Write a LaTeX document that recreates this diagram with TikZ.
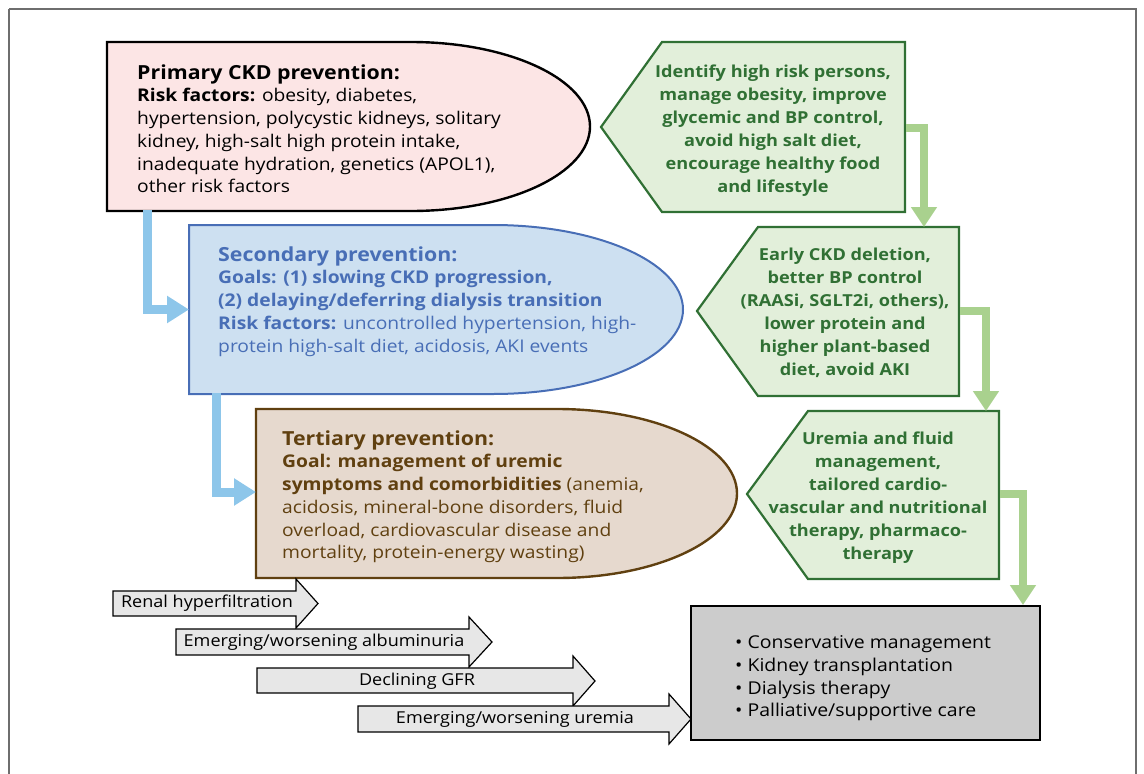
\documentclass[tikz,border=0pt]{standalone}
\usepackage{fontspec}
\setmainfont[FakeStretch=1.1]{Open Sans}
\usetikzlibrary{arrows.meta}
\definecolor{pinkfill}{RGB}{252,229,229}
\definecolor{bluefill}{RGB}{205,224,241}
\definecolor{bluedark}{RGB}{72,110,182}
\definecolor{brownfill}{RGB}{230,217,206}
\definecolor{browndark}{RGB}{96,64,16}
\definecolor{greenfill}{RGB}{226,239,218}
\definecolor{greendark}{RGB}{48,112,52}
\definecolor{greenlink}{RGB}{169,209,142}
\definecolor{bluelink}{RGB}{141,198,234}
\definecolor{boxgray}{RGB}{204,204,204}
\definecolor{stepgray}{RGB}{231,231,231}
\definecolor{framegray}{RGB}{110,110,110}
\newcommand{\headfont}{\fontsize{19.4}{22.7}\selectfont\bfseries}
\begin{document}
\begin{tikzpicture}[x=1pt,y=-1pt,
        every node/.style={inner sep=0pt},
        prevtext/.style={anchor=north west,align=left,font=\fontsize{17.5}{22.7}\selectfont},
        actiontext/.style={align=center,text=greendark,font=\fontsize{16.5}{23}\selectfont\bfseries},
        actionbox/.style={draw=greendark,fill=greenfill,line width=2.2pt,line join=miter},
        steptext/.style={font=\fontsize{16.4}{18}\selectfont},
        stepshape/.style={draw=black,fill=stepgray,line width=1.2pt,line join=miter},
        bluelinkarrow/.style={draw=bluelink,line width=9pt,-{Triangle[width=26pt,length=22pt]}},
        greenlinkarrow/.style={draw=greenlink,line width=8pt,-{Triangle[width=25pt,length=20pt]}}]
        \useasboundingbox (0,0) rectangle (1144,774);
        \draw [framegray,line width=1.4pt] (9,9) -- (1136,9) -- (1136,790) (9,790) -- (9,9);
        % prevention levels
        \draw [black,fill=pinkfill,line width=2.4pt] (107,42) -- (411,42) arc[start angle=-90,end angle=90,x radius=179,y radius=84.5] -- (107,211) -- cycle;
        \node [prevtext] (primary) at (137,64.3) {{\headfont Primary CKD prevention:}\\
          \textbf{Risk factors:} obesity, diabetes,\\
          hypertension, polycystic kidneys, solitary\\
          kidney, high-salt high protein intake,\\
          inadequate hydration, genetics (APOL1),\\
          other risk factors};
        \draw [bluedark,fill=bluefill,line width=2pt] (189,225) -- (493,225) arc[start angle=-90,end angle=90,x radius=190,y radius=84.5] -- (189,394) -- cycle;
        \node [prevtext,text=bluedark] (secondary) at (218,246.3) {{\headfont Secondary prevention:}\\
          \textbf{Goals: (1) slowing CKD progression,}\\
          \textbf{(2) delaying/deferring dialysis transition}\\
          \textbf{Risk factors:} uncontrolled hypertension, high-\\
          protein high-salt diet, acidosis, AKI events};
        \draw [browndark,fill=brownfill,line width=2.4pt] (256,409) -- (557,409) arc[start angle=-90,end angle=90,x radius=180,y radius=84.5] -- (256,578) -- cycle;
        \node [prevtext,text=browndark] (tertiary) at (282,430.3) {{\headfont Tertiary prevention:}\\
          \textbf{Goal: management of uremic}\\
          \textbf{symptoms and comorbidities} (anemia,\\
          acidosis, mineral-bone disorders, fluid\\
          overload, cardiovascular disease and\\
          mortality, protein-energy wasting)};
        % actions
        \draw [actionbox] (601,127) -- (662,42) -- (905,42) -- (905,212) -- (662,212) -- cycle;
        \node [actiontext] (identify) at (773,131) {Identify high risk persons,\\ manage obesity, improve\\ glycemic and BP control,\\ avoid high salt diet,\\ encourage healthy food\\ and lifestyle};
        \draw [actionbox] (697,311) -- (758,227) -- (959,227) -- (959,396) -- (758,396) -- cycle;
        \node [actiontext] (early) at (845,312.5) {Early CKD deletion,\\ better BP control\\ (RAASi, SGLT2i, others),\\ lower protein and\\ higher plant-based\\ diet, avoid AKI};
        \draw [actionbox] (747,494) -- (808,411) -- (999,411) -- (999,579) -- (808,579) -- cycle;
        \node [actiontext] (uremia) at (878,497.5) {Uremia and fluid\\ management,\\ tailored cardio-\\ vascular and nutritional\\ therapy, pharmaco-\\ therapy};
        \draw [black,fill=boxgray,line width=2.6pt] (691,606) rectangle (1040,740);
        \node [anchor=west,align=left,font=\fontsize{17.7}{22.6}\selectfont] (care) at (735,678.5) {\textbullet\ Conservative management\\ \textbullet\ Kidney transplantation\\ \textbullet\ Dialysis therapy\\ \textbullet\ Palliative/supportive care};
        % links
        \coordinate (primary-s) at (147,210);
        \coordinate (secondary-w) at (189,309.5);
        \coordinate (secondary-s) at (216,393);
        \coordinate (tertiary-w) at (256,492);
        \draw [bluelinkarrow] (primary-s) |- (secondary-w);
        \draw [bluelinkarrow] (secondary-s) |- (tertiary-w);
        \coordinate (identify-e) at (906,128);
        \coordinate (early-n) at (924,227);
        \coordinate (early-e) at (960,311);
        \coordinate (uremia-n) at (986,411);
        \coordinate (uremia-e) at (1000,494);
        \coordinate (care-n) at (1023,605);
        \draw [greenlinkarrow] (identify-e) -| (early-n);
        \draw [greenlinkarrow] (early-e) -| (uremia-n);
        \draw [greenlinkarrow] (uremia-e) -| (care-n);
        % stages
        \draw [stepshape] (113,591) -- (296,591) -- (296,579) -- (318,603.5) -- (296,628) -- (296,616) -- (113,616) -- cycle;
        \node [steptext] (hyper) at (207,603.5) {Renal hyperfiltration};
        \draw [stepshape] (176,629) -- (469,629) -- (469,617) -- (492,642) -- (469,667) -- (469,655) -- (176,655) -- cycle;
        \node [steptext] (albumin) at (324,642) {Emerging/worsening albuminuria};
        \draw [stepshape] (257,668) -- (573,668) -- (573,656) -- (595,681) -- (573,706) -- (573,693) -- (257,693) -- cycle;
        \node [steptext] (gfr) at (417,681) {Declining GFR};
        \draw [stepshape] (358,706) -- (669,706) -- (669,694) -- (691,719) -- (669,744) -- (669,732) -- (358,732) -- cycle;
        \node [steptext] (uremic) at (515,719) {Emerging/worsening uremia};
\end{tikzpicture}
\end{document}
